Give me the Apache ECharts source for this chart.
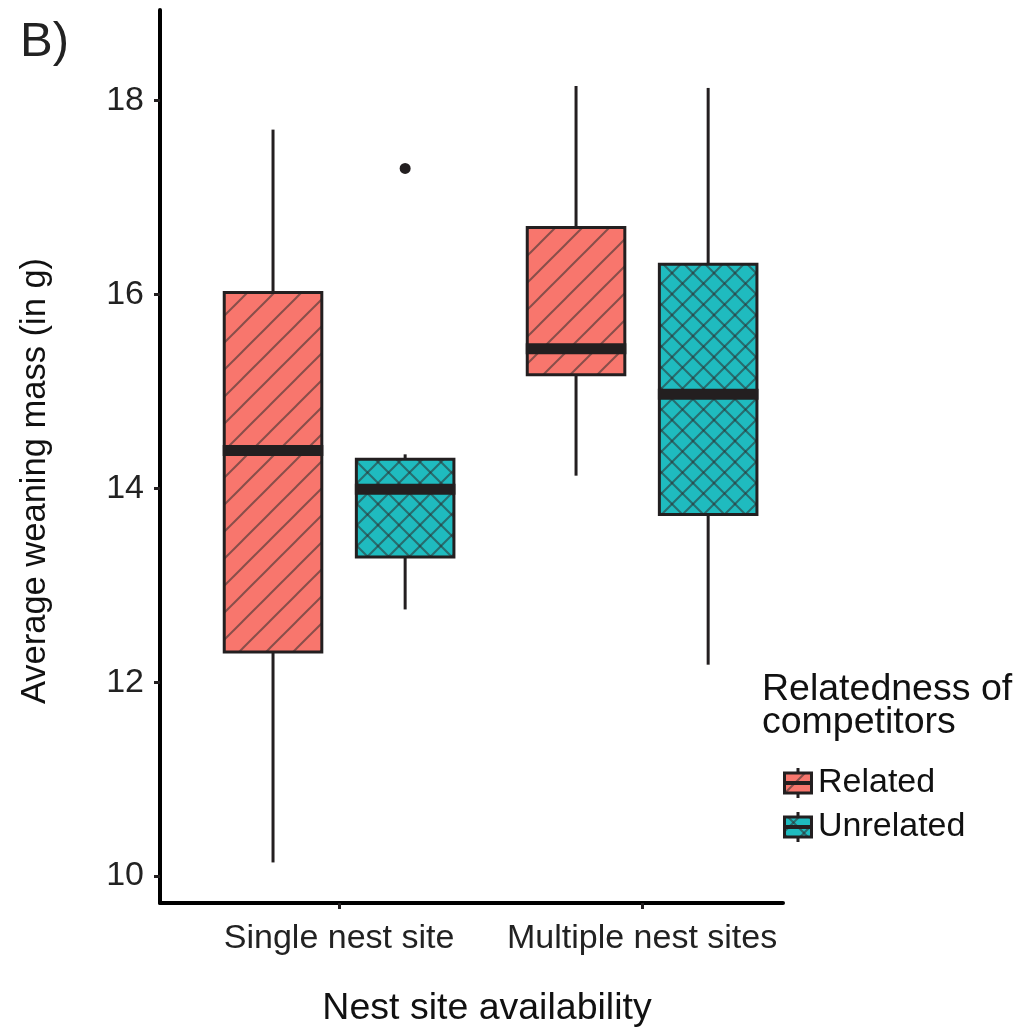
<!DOCTYPE html>
<html>
<head>
<meta charset="utf-8">
<script src="https://cdn.jsdelivr.net/npm/echarts@6/dist/echarts.min.js"></script>
<style>html,body{margin:0;padding:0;background:#fff;}#chart{width:1020px;height:1033px;}</style>
</head>
<body>
<div id="chart"></div>
<script>
// ---- data ----
const categories = ['Single nest site', 'Multiple nest sites'];
const groups = ['Related', 'Unrelated'];
// [min, Q1, median, Q3, max] per category
const relatedBox = [[10.14, 12.31, 14.39, 16.02, 17.70], [14.13, 15.17, 15.44, 16.69, 18.15]];
const unrelatedBox = [[12.75, 13.29, 13.99, 14.30, 14.35], [12.18, 13.73, 14.97, 16.31, 18.13]];
// [categoryIndex, value]
const unrelatedOutliers = [[0, 17.30]];
const yTicks = [10, 12, 14, 16, 18];

const FONT = 'Liberation Sans, Arial, sans-serif';
const INK = '#231f20';
const colors = { Related: '#F8766D', Unrelated: '#1FBBBF' };
const offsets = { Related: -0.218, Unrelated: 0.218 };
const boxW = 0.322;

function makeTile(kind) {
  const s = kind === 'stripe' ? 27 : 21;
  const c = document.createElement('canvas');
  c.width = s; c.height = s;
  const g = c.getContext('2d');
  g.fillStyle = kind === 'stripe' ? colors.Related : colors.Unrelated;
  g.fillRect(0, 0, s, s);
  g.strokeStyle = 'rgba(45,45,45,0.55)';
  g.lineWidth = 2;
  const line = (x1, y1, x2, y2) => { g.beginPath(); g.moveTo(x1, y1); g.lineTo(x2, y2); g.stroke(); };
  // "/" diagonals
  line(-2, s + 2, s + 2, -2); line(-2, 2, 2, -2); line(s - 2, s + 2, s + 2, s - 2);
  if (kind !== 'stripe') {
    // "\" diagonals
    line(-2, -2, s + 2, s + 2); line(s - 2, -2, s + 2, 2); line(-2, s - 2, 2, s + 2);
  }
  return c;
}
const tiles = { Related: makeTile('stripe'), Unrelated: makeTile('cross') };

function legendIcon(name) {
  const c = document.createElement('canvas');
  c.width = 30; c.height = 30;
  const g = c.getContext('2d');
  g.fillStyle = INK;
  g.fillRect(13.5, 0, 3, 30);
  g.fillStyle = g.createPattern(tiles[name], 'repeat');
  g.fillRect(1.5, 5, 27, 20);
  g.strokeStyle = INK; g.lineWidth = 3;
  g.strokeRect(1.5, 5, 27, 20);
  g.fillStyle = INK;
  g.fillRect(0, 13, 30, 4);
  return 'image://' + c.toDataURL();
}

function boxSeries(name, boxes) {
  return {
    name: name,
    type: 'custom',
    itemStyle: { color: colors[name] },
    data: boxes.map((b, i) => [i + 1 + offsets[name]].concat(b)),
    encode: { x: 0, y: [1, 2, 3, 4, 5] },
    renderItem: function (params, api) {
      const x = api.value(0);
      const pMin = api.coord([x, api.value(1)]);
      const pQ1 = api.coord([x, api.value(2)]);
      const pMed = api.coord([x, api.value(3)]);
      const pQ3 = api.coord([x, api.value(4)]);
      const pMax = api.coord([x, api.value(5)]);
      const w = api.size([boxW, 0])[0];
      const cx = pMed[0];
      return {
        type: 'group',
        children: [
          { type: 'line', shape: { x1: cx, y1: pMax[1], x2: cx, y2: pQ3[1] }, style: { stroke: INK, lineWidth: 3 } },
          { type: 'line', shape: { x1: cx, y1: pQ1[1], x2: cx, y2: pMin[1] }, style: { stroke: INK, lineWidth: 3 } },
          { type: 'rect', shape: { x: cx - w / 2, y: pQ3[1], width: w, height: pQ1[1] - pQ3[1] },
            style: { fill: { image: tiles[name], repeat: 'repeat' }, stroke: INK, lineWidth: 3 } },
          { type: 'rect', shape: { x: cx - w / 2 - 1.5, y: pMed[1] - 5.5, width: w + 3, height: 11 }, style: { fill: INK } }
        ]
      };
    }
  };
}

const chart = echarts.init(document.getElementById('chart'));
chart.setOption({
  animation: false,
  backgroundColor: '#fff',
  grid: { left: 160, top: 10, right: 237, bottom: 130, containLabel: false },
  xAxis: {
    type: 'value', min: 0.409, max: 2.465,
    splitLine: { show: false },
    axisLine: { show: true, onZero: false, lineStyle: { color: '#000', width: 4 } },
    axisTick: { show: true, length: 6, lineStyle: { color: INK, width: 3 }, customValues: [1, 2] },
    axisLabel: { customValues: [1, 2], formatter: v => categories[Math.round(v) - 1], fontSize: 34, fontFamily: FONT, color: '#222', margin: 19 }
  },
  yAxis: {
    type: 'value', min: 9.7215, max: 18.934,
    splitLine: { show: false },
    axisLine: { show: true, onZero: false, lineStyle: { color: '#000', width: 4 } },
    axisTick: { show: true, length: 6, lineStyle: { color: INK, width: 3 }, customValues: yTicks },
    axisLabel: { customValues: yTicks, fontSize: 34, fontFamily: FONT, color: '#222', margin: 16 }
  },
  legend: {
    data: groups.map(n => ({ name: n, icon: legendIcon(n) })),
    orient: 'vertical', left: 783, top: 766, padding: 0,
    itemWidth: 30, itemHeight: 30, itemGap: 10,
    textStyle: { fontSize: 34, lineHeight: 34, fontFamily: FONT, color: '#111', padding: [0, 0, 0, 0] },
    selectedMode: false
  },
  series: [
    boxSeries('Related', relatedBox),
    boxSeries('Unrelated', unrelatedBox),
    {
      name: 'Unrelated outliers', type: 'scatter',
      data: unrelatedOutliers.map(o => [o[0] + 1 + offsets.Unrelated, o[1]]),
      symbol: 'circle', symbolSize: 11, itemStyle: { color: INK, opacity: 1 }
    }
  ],
  graphic: [
    { type: 'text', x: 20, y: 42, style: { text: 'B)', fontSize: 49, fontFamily: FONT, fill: '#222', verticalAlign: 'middle' } },
    { type: 'text', x: 35, y: 481, rotation: Math.PI / 2, style: { text: 'Average weaning mass (in g)', fontSize: 34.5, fontFamily: FONT, fill: '#111', align: 'center', verticalAlign: 'middle' } },
    { type: 'text', x: 487, y: 1009, style: { text: 'Nest site availability', fontSize: 37.5, fontFamily: FONT, fill: '#111', align: 'center', verticalAlign: 'middle' } },
    { type: 'text', x: 762, y: 673, style: { text: 'Relatedness of\ncompetitors', fontSize: 37.5, lineHeight: 33, fontFamily: FONT, fill: '#111', align: 'left', verticalAlign: 'top' } }
  ]
});
</script>
</body>
</html>
